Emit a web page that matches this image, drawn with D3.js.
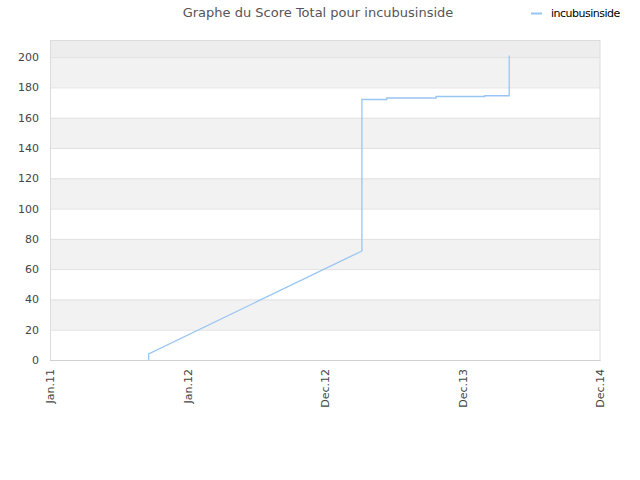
<!DOCTYPE html>
<html>
<head>
<meta charset="utf-8">
<script src="https://cdn.jsdelivr.net/npm/d3@7"></script>
<style>
  body { margin: 0; background: #fff; }
  text { font-family: "DejaVu Sans", sans-serif; }
</style>
</head>
<body>
<div id="chart"></div>
<script>
// series: dates and total score for incubusinside
var dates = ["2011-09-20", "2011-09-20", "2013-04-08", "2013-04-08", "2013-06-13", "2013-06-13",
             "2013-10-22", "2013-10-22", "2014-02-28", "2014-02-28", "2014-05-04", "2014-05-04"];
var scores = [0, 4, 72, 172, 172, 173, 173, 174, 174, 174.5, 174.5, 201];

var xTickDates = ["2011-01-01", "2012-01-01", "2012-12-31", "2013-12-31", "2014-12-31"];
var xTickLabels = ["Jan.11", "Jan.12", "Dec.12", "Dec.13", "Dec.14"];
var yTicks = [0, 20, 40, 60, 80, 100, 120, 140, 160, 180, 200];

var seriesName = "incubusinside";
var title = "Graphe du Score Total pour incubusinside";

document.addEventListener('DOMContentLoaded', function () {
    var parse = d3.timeParse("%Y-%m-%d");

    var data = dates.map(function (d, i) {
        return { date: parse(d), score: scores[i] };
    });

    var margin = { top: 40, right: 40, bottom: 120, left: 50 },
        width = 640 - margin.left - margin.right,
        height = 480 - margin.top - margin.bottom;

    var svg = d3.select("#chart")
        .append("svg")
        .attr("width", 640)
        .attr("height", 480);

    var g = svg.append("g")
        .attr("transform", "translate(" + margin.left + "," + margin.top + ")");

    var x = d3.scaleTime()
        .domain([parse(xTickDates[0]), parse(xTickDates[xTickDates.length - 1])])
        .range([0, width]);

    var y = d3.scaleLinear()
        .domain([0, 211.3])
        .range([height, 0]);

    // top band above last tick
    g.append("rect")
        .attr("x", 0)
        .attr("y", 0)
        .attr("width", width)
        .attr("height", y(200))
        .attr("fill", "#ededed");

    // alternating bands
    g.selectAll(".band")
        .data(yTicks.slice(0, -1))
        .enter().append("rect")
        .attr("class", "band")
        .attr("x", 0)
        .attr("y", function (d) { return y(d + 20); })
        .attr("width", width)
        .attr("height", function (d) { return y(d) - y(d + 20); })
        .attr("fill", function (d, i) { return i % 2 === 1 ? "#f2f2f2" : "#ffffff"; });

    // grid lines
    g.selectAll(".grid")
        .data(yTicks)
        .enter().append("line")
        .attr("class", "grid")
        .attr("x1", 0)
        .attr("x2", width)
        .attr("y1", function (d) { return y(d) + 0.5; })
        .attr("y2", function (d) { return y(d) + 0.5; })
        .attr("stroke", "#e1e1e1")
        .attr("stroke-width", 1);

    // frame
    g.append("rect")
        .attr("x", 0.5)
        .attr("y", 0.5)
        .attr("width", width - 0.5)
        .attr("height", height)
        .attr("fill", "none")
        .attr("stroke", "#dcdcdc");

    // y axis
    var yAxis = d3.axisLeft(y)
        .tickValues(yTicks)
        .tickSize(0)
        .tickPadding(11);

    g.append("g")
        .attr("class", "axis y-axis")
        .call(yAxis)
        .call(function (s) { s.select(".domain").remove(); })
        .selectAll("text")
        .style("font-size", "11px")
        .style("fill", "#444");

    // x axis
    var xAxis = d3.axisBottom(x)
        .tickValues(xTickDates.map(parse))
        .tickFormat(function (d, i) { return xTickLabels[i]; })
        .tickSize(0);

    g.append("g")
        .attr("class", "axis x-axis")
        .attr("transform", "translate(0," + height + ")")
        .call(xAxis)
        .call(function (s) { s.select(".domain").attr("stroke", "#d0d0d0"); })
        .selectAll("text")
        .attr("y", 0)
        .attr("x", -9)
        .attr("dy", ".35em")
        .attr("transform", "rotate(-90)")
        .style("text-anchor", "end")
        .style("font-size", "11px")
        .style("fill", "#444");

    // the line
    var line = d3.line()
        .x(function (d) { return x(d.date); })
        .y(function (d) { return y(d.score); });

    g.append("path")
        .datum(data)
        .attr("fill", "none")
        .attr("stroke", "#99c5f4")
        .attr("stroke-width", 1.3)
        .attr("d", line);

    // title
    svg.append("text")
        .attr("x", 318)
        .attr("y", 17)
        .attr("text-anchor", "middle")
        .style("font-size", "13px")
        .style("fill", "#555")
        .text(title);

    // legend
    svg.append("line")
        .attr("x1", 531)
        .attr("x2", 542)
        .attr("y1", 13.5)
        .attr("y2", 13.5)
        .attr("stroke", "#99c5f4")
        .attr("stroke-width", 2);

    svg.append("text")
        .attr("x", 551)
        .attr("y", 17)
        .style("font-size", "11px")
        .style("letter-spacing", "-0.5px")
        .style("fill", "#000")
        .text(seriesName);
});
</script>
</body>
</html>
